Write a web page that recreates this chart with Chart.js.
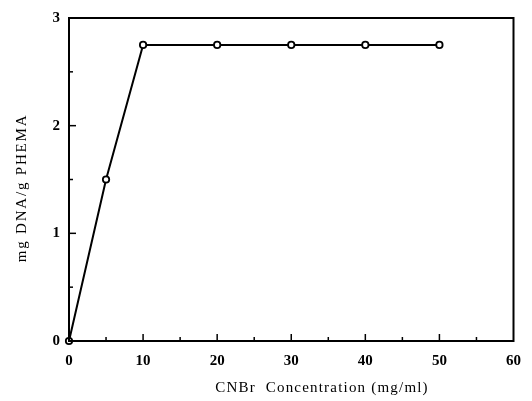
<!DOCTYPE html>
<html>
<head>
<meta charset="utf-8">
<script src="https://cdn.jsdelivr.net/npm/chart.js@4/dist/chart.umd.min.js"></script>
<style>
html,body{margin:0;padding:0;background:#fff;}
#wrap{width:532px;height:401px;}
</style>
</head>
<body>
<div id="wrap"><canvas id="c" width="532" height="401"></canvas></div>
<script>
// Data
const concentrations = [0, 5, 10, 20, 30, 40, 50];
const dnaBound = [0, 1.5, 2.75, 2.75, 2.75, 2.75, 2.75];
const xTickValues = [0, 10, 20, 30, 40, 50, 60];
const yTickValues = [0, 1, 2, 3];
const xTitle = 'CNBr  Concentration (mg/ml)';
const yTitle = 'mg DNA/g PHEMA';

const SERIF = '"Liberation Serif", "DejaVu Serif", serif';

const framePlugin = {
  id: 'frame',
  beforeDraw(chart) {
    const ctx = chart.ctx;
    ctx.save();
    ctx.fillStyle = '#fff';
    ctx.fillRect(0, 0, chart.width, chart.height);
    ctx.restore();
  },
  afterDraw(chart) {
    const ctx = chart.ctx;
    const a = chart.chartArea;
    const xs = chart.scales.x, ys = chart.scales.y;
    ctx.save();
    ctx.strokeStyle = '#000';
    ctx.lineWidth = 2;
    ctx.strokeRect(a.left, a.top, a.right - a.left, a.bottom - a.top);
    ctx.lineWidth = 1.5;
    // x ticks (inward)
    for (let v = 0; v <= 60; v += 5) {
      const px = xs.getPixelForValue(v);
      const len = (v % 10 === 0) ? 7 : 4;
      if (v === 0 || v === 60) continue;
      ctx.beginPath(); ctx.moveTo(px, a.bottom); ctx.lineTo(px, a.bottom - len); ctx.stroke();
    }
    // y ticks (inward)
    for (let v = 0; v <= 3; v += 0.5) {
      const py = ys.getPixelForValue(v);
      const len = (v % 1 === 0) ? 7 : 4;
      if (v === 0 || v === 3) continue;
      ctx.beginPath(); ctx.moveTo(a.left, py); ctx.lineTo(a.left + len, py); ctx.stroke();
    }
    // axis titles
    ctx.fillStyle = '#000';
    ctx.font = '15px ' + SERIF;
    ctx.textAlign = 'center';
    ctx.textBaseline = 'middle';
    ctx.letterSpacing = '1.2px';
    ctx.fillText(xTitle, 322, 388);
    ctx.translate(22, 188);
    ctx.rotate(-Math.PI / 2);
    ctx.letterSpacing = '1.8px';
    ctx.fillText(yTitle, 0, 0);
    ctx.restore();
  }
};

new Chart(document.getElementById('c'), {
  type: 'line',
  data: {
    datasets: [{
      data: concentrations.map((x, i) => ({x: x, y: dnaBound[i]})),
      borderColor: '#000',
      borderWidth: 2,
      backgroundColor: '#fff',
      pointRadius: 3.2,
      pointBorderWidth: 1.8,
      pointBackgroundColor: '#fff',
      pointBorderColor: '#000',
      tension: 0,
      clip: false
    }]
  },
  options: {
    responsive: false,
    animation: false,
    devicePixelRatio: 1,
    layout: {padding: {left: 0, right: 11, top: 16, bottom: 0}},
    plugins: {legend: {display: false}, tooltip: {enabled: false}},
    scales: {
      x: {
        type: 'linear', min: 0, max: 60,
        afterBuildTicks: s => { s.ticks = xTickValues.map(v => ({value: v})); },
        afterFit: s => { s.height = 60; },
        grid: {display: true, drawOnChartArea: false, drawTicks: false},
        border: {display: false},
        ticks: {color: '#000', padding: 11, maxRotation: 0,
                font: {family: SERIF, size: 15, weight: 'bold'}},
        title: {display: false}
      },
      y: {
        type: 'linear', min: 0, max: 3,
        afterBuildTicks: s => { s.ticks = yTickValues.map(v => ({value: v})); },
        afterFit: s => { s.width = 69; },
        grid: {display: true, drawOnChartArea: false, drawTicks: false},
        border: {display: false},
        ticks: {color: '#000', padding: 9,
                font: {family: SERIF, size: 15, weight: 'bold'}},
        title: {display: false}
      }
    }
  },
  plugins: [framePlugin]
});
</script>
</body>
</html>
